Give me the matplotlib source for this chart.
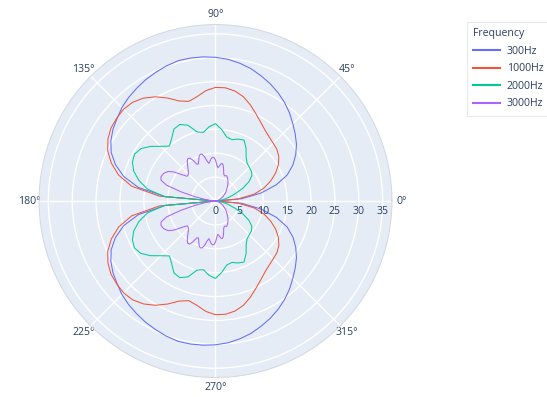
import numpy as np
import matplotlib
matplotlib.use("Agg")
import matplotlib.pyplot as plt

plt.rcParams['font.family'] = ['Open Sans', 'DejaVu Sans']

# angles (degrees) shared by the three smooth series
angles = list(range(0, 365, 5))

r_300 = [0, 5.5, 9.7, 13.2, 16.0, 17.9, 19.4, 20.7, 21.8, 22.9, 24.1, 25.2, 26.2, 27.1, 27.9, 28.7, 29.3, 29.8,
         30.1, 30.3, 30.4, 30.4, 30.1, 29.7, 29.3, 28.8, 28.3, 27.7, 26.9, 26.2, 25.3, 24.1, 22.3, 19.9, 16.4, 10.5,
         0,
         10.5, 16.4, 19.9, 22.3, 24.1, 25.3, 26.2, 26.9, 27.7, 28.3, 28.8, 29.3, 29.7, 30.1, 30.4, 30.4, 30.3,
         30.1, 29.8, 29.3, 28.7, 27.9, 27.1, 26.2, 25.2, 24.1, 22.9, 21.8, 20.7, 19.4, 17.9, 16.0, 13.2, 9.7, 5.5, 0]

r_1000 = [0, 4.6, 8.2, 10.5, 12.3, 13.9, 15.2, 16.2, 16.8, 17.1, 17.5, 18.1, 19.0, 20.1, 21.4, 22.6, 23.4, 23.8,
          23.8, 23.2, 22.2, 21.6, 22.3, 23.8, 25.2, 26.3, 27.0, 27.2, 27.0, 26.7, 26.0, 24.9, 23.2, 21.0, 17.8, 11.8,
          0,
          11.8, 17.8, 21.0, 23.2, 24.9, 26.0, 26.7, 27.0, 27.2, 27.0, 26.3, 25.2, 23.8, 22.3, 21.6, 22.2, 23.2,
          23.8, 23.8, 23.4, 22.6, 21.4, 20.1, 19.0, 18.1, 17.5, 17.1, 16.8, 16.2, 15.2, 13.9, 12.3, 10.5, 8.2, 4.6, 0]

r_2000 = [0, 0.8, 1.6, 2.8, 4.3, 6.3, 8.1, 9.3, 9.8, 10.0, 10.3, 11.2, 12.8, 14.1, 13.8, 13.3, 13.6, 15.0,
          16.2, 15.6, 14.6, 15.0, 16.9, 17.7, 17.4, 16.0, 15.0, 16.2, 17.8, 19.1, 19.6, 19.2, 18.2, 16.6, 14.5, 10.8,
          0,
          10.8, 14.5, 16.6, 18.2, 19.2, 19.6, 19.1, 17.8, 16.2, 15.0, 16.0, 17.4, 17.7, 16.9, 15.0, 14.6, 15.6,
          16.2, 15.0, 13.6, 13.3, 13.8, 14.1, 12.8, 11.2, 10.3, 10.0, 9.8, 9.3, 8.1, 6.3, 4.3, 2.8, 1.6, 0.8, 0]

# 3000Hz has more wiggles, so its own angle list
theta_3000 = [0, 10, 20, 30, 40, 50, 56, 62, 66, 70, 73, 76, 78, 80, 82, 84, 86, 88, 90, 92, 94, 96, 98, 100,
              102, 104, 106, 108, 110, 112, 115, 117, 119, 121, 123, 125, 128, 132, 136, 139, 142, 145, 148, 152,
              156, 159, 162, 165, 168, 172, 176, 180,
              184, 188, 192, 195, 198, 201, 204, 208, 212, 215, 218, 221, 224, 228, 232, 235, 237, 239, 241, 243,
              245, 248, 250, 252, 254, 256, 258, 260, 262, 264, 266, 268, 270, 272, 274, 276, 278, 280, 282, 284,
              287, 290, 294, 298, 304, 310, 320, 330, 340, 350, 360]
r_3000 = [0, 0.4, 1.0, 1.8, 2.8, 3.9, 4.7, 5.4, 5.8, 5.6, 5.9, 7.0, 7.7, 8.0, 7.8, 7.3, 7.0, 7.6, 8.6, 9.1, 9.2,
          8.9, 8.4, 8.0, 8.6, 9.6, 10.2, 10.3, 10.0, 9.3, 8.5, 8.7, 9.8, 10.5, 10.6, 10.3, 9.5, 8.5, 7.9, 7.9,
          9.0, 10.6, 11.7, 12.3, 12.5, 12.2, 10.8, 7.5, 4.5, 2.0, 0.8, 0,
          0.8, 2.0, 4.5, 7.5, 10.8, 12.2, 12.5, 12.3, 11.7, 10.6, 9.0, 7.9, 7.9, 8.5, 9.5, 10.3, 10.6, 10.5, 9.8,
          8.7, 8.5, 9.3, 10.0, 10.3, 10.2, 9.6, 8.6, 8.0, 8.4, 8.9, 9.2, 9.1, 8.6, 7.6, 7.0, 7.3, 7.8, 8.0, 7.7,
          7.0, 5.9, 5.6, 5.8, 5.4, 4.7, 3.9, 2.8, 1.8, 1.0, 0.4, 0]

labels = ['300Hz', '1000Hz', '2000Hz', '3000Hz']
colors = ['#636EFA', '#EF553B', '#00CC96', '#AB63FA']
r_ticks = [0, 5, 10, 15, 20, 25, 30, 35]
ang_ticks = [0, 45, 90, 135, 180, 225, 270, 315]

text_col = '#2a3f5f'
fs = 7.6

fig = plt.figure(figsize=(5.47, 3.97), dpi=100)
ax = fig.add_axes([0.0713, 0.0491, 0.6453, 0.889], projection='polar')
ax.set_facecolor('#E5ECF6')

series = [(angles, r_300), (angles, r_1000), (angles, r_2000), (theta_3000, r_3000)]
for (th, r), lab, c in zip(series, labels, colors):
    ax.plot(np.deg2rad(th), r, color=c, lw=0.75, label=lab)

ax.set_ylim(0, 36.95)
ax.set_yticks(r_ticks[1:])
ax.set_yticklabels([])
ax.set_xticks(np.deg2rad(ang_ticks))
ax.set_xticklabels([f'{a}°' for a in ang_ticks])
ax.tick_params(axis='x', colors=text_col, labelsize=fs, pad=0, length=0)
ax.grid(color='white', lw=1)
ax.spines['polar'].set_color('#d3d7de')
ax.spines['polar'].set_linewidth(0.7)

# radial tick labels under the 0° line
for v in r_ticks:
    ax.annotate(str(v), xy=(0, v), xytext=(0, -7.5), textcoords='offset points',
                ha='center', va='center', color=text_col, fontsize=fs)

leg = ax.legend(loc='upper left', bbox_to_anchor=(0.853, 0.945), bbox_transform=fig.transFigure,
                title='Frequency', fontsize=fs, title_fontsize=fs, frameon=True, borderaxespad=0,
                handlelength=2.6, handletextpad=0.6, labelspacing=0.62, borderpad=0.6)
leg._legend_box.align = 'left'
leg.get_frame().set_edgecolor('#dfe3e8')
leg.get_frame().set_linewidth(0.8)
leg.get_frame().set_boxstyle('square', pad=0)
for t in leg.get_texts():
    t.set_color(text_col)
leg.get_title().set_color(text_col)
for line in leg.get_lines():
    line.set_linewidth(1.5)

fig.savefig('out.png', dpi=100)
